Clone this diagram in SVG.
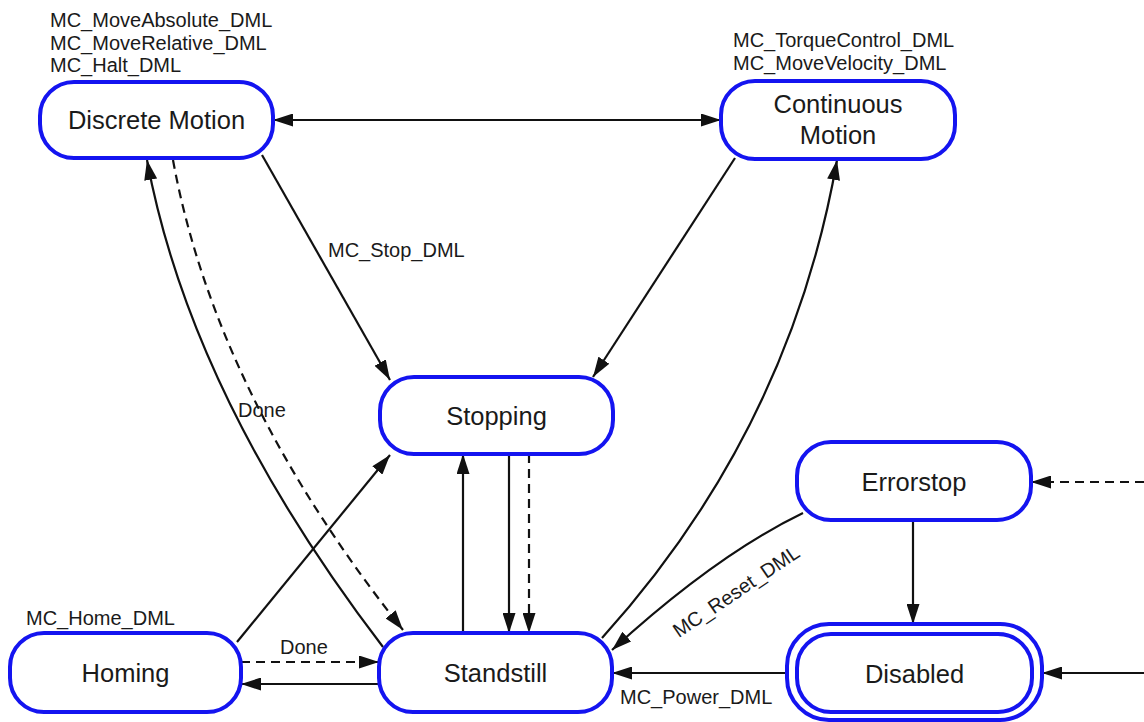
<svg xmlns="http://www.w3.org/2000/svg" width="1144" height="722" viewBox="0 0 1144 722">
<style>
.node{fill:#fff;stroke:#1414f0;stroke-width:4}
.lbl{font-family:"Liberation Sans",Arial,sans-serif;font-size:25.5px;fill:#1a1a1a;text-anchor:middle}
.sm{font-family:"Liberation Sans",Arial,sans-serif;font-size:20px;fill:#1a1a1a}
.c{fill:none;stroke:#111;stroke-width:2.2;marker-end:url(#a)}
.d{stroke-dasharray:9,6}
</style>
<defs>
<marker id="a" viewBox="0 0 20 13" refX="20" refY="6.5" markerWidth="20" markerHeight="13" markerUnits="userSpaceOnUse" orient="auto-start-reverse">
<path d="M0,0 L20,6.5 L0,13 z" fill="#111"/>
</marker>
</defs>
<rect width="1144" height="722" fill="#fff"/>
<g id="connectors">
<path class="c" d="M273 120 L721 120" style="marker-start:url(#a)"/>
<path class="c" d="M262 155 L390 380"/>
<path class="c" d="M735 158 L593 377"/>
<path class="c" d="M602 638 Q790 430 837 160"/>
<path class="c" d="M383 647 Q191 396 147 160"/>
<path class="c d" d="M173 160 Q216 395 403 630"/>
<path class="c" d="M237 642 L390 455"/>
<path class="c d" d="M241 662 L379 662"/>
<path class="c" d="M379 684 L241 684"/>
<path class="c" d="M463 633 L463 454"/>
<path class="c" d="M509 454 L509 633"/>
<path class="c d" d="M529 454 L529 633"/>
<path class="c" d="M803 513 Q716 555 612 650"/>
<path class="c" d="M913 520 L913 624"/>
<path class="c" d="M787 673 L612 673"/>
<path class="c d" d="M1144 482 L1031 482"/>
<path class="c" d="M1144 673 L1042 673"/>
<text class="sm" x="328" y="257">MC_Stop_DML</text>
<text class="sm" x="238" y="417">Done</text>
<text class="sm" x="280" y="654">Done</text>
<text class="sm" x="620" y="704">MC_Power_DML</text>
<text class="sm" text-anchor="middle" transform="translate(740,597) rotate(-34)">MC_Reset_DML</text>
</g>
<g id="discrete">
<rect class="node" x="40" y="82" width="233" height="76" rx="34"/>
<text class="lbl" x="156.5" y="129">Discrete Motion</text>
<text class="sm" x="50" y="27">MC_MoveAbsolute_DML</text>
<text class="sm" x="50" y="49.5">MC_MoveRelative_DML</text>
<text class="sm" x="50" y="72">MC_Halt_DML</text>
</g>
<g id="continuous">
<rect class="node" x="721" y="81" width="234" height="78" rx="34"/>
<text class="lbl" x="838" y="113">Continuous</text>
<text class="lbl" x="838" y="144">Motion</text>
<text class="sm" x="733" y="47">MC_TorqueControl_DML</text>
<text class="sm" x="733" y="70">MC_MoveVelocity_DML</text>
</g>
<g id="stopping">
<rect class="node" x="380" y="377" width="233" height="77" rx="34"/>
<text class="lbl" x="496.5" y="425">Stopping</text>
</g>
<g id="homing">
<rect class="node" x="10" y="633" width="231" height="79" rx="34"/>
<text class="lbl" x="125.5" y="682">Homing</text>
<text class="sm" x="26" y="625">MC_Home_DML</text>
</g>
<g id="standstill">
<rect class="node" x="379" y="633" width="233" height="79" rx="34"/>
<text class="lbl" x="495.5" y="682">Standstill</text>
</g>
<g id="errorstop">
<rect class="node" x="797" y="442" width="234" height="78" rx="34"/>
<text class="lbl" x="914" y="490.5">Errorstop</text>
</g>
<g id="disabled">
<rect class="node" x="787" y="624" width="255" height="96" rx="42"/>
<rect class="node" x="797" y="634" width="235" height="78" rx="34"/>
<text class="lbl" x="914.5" y="683">Disabled</text>
</g>
</svg>
